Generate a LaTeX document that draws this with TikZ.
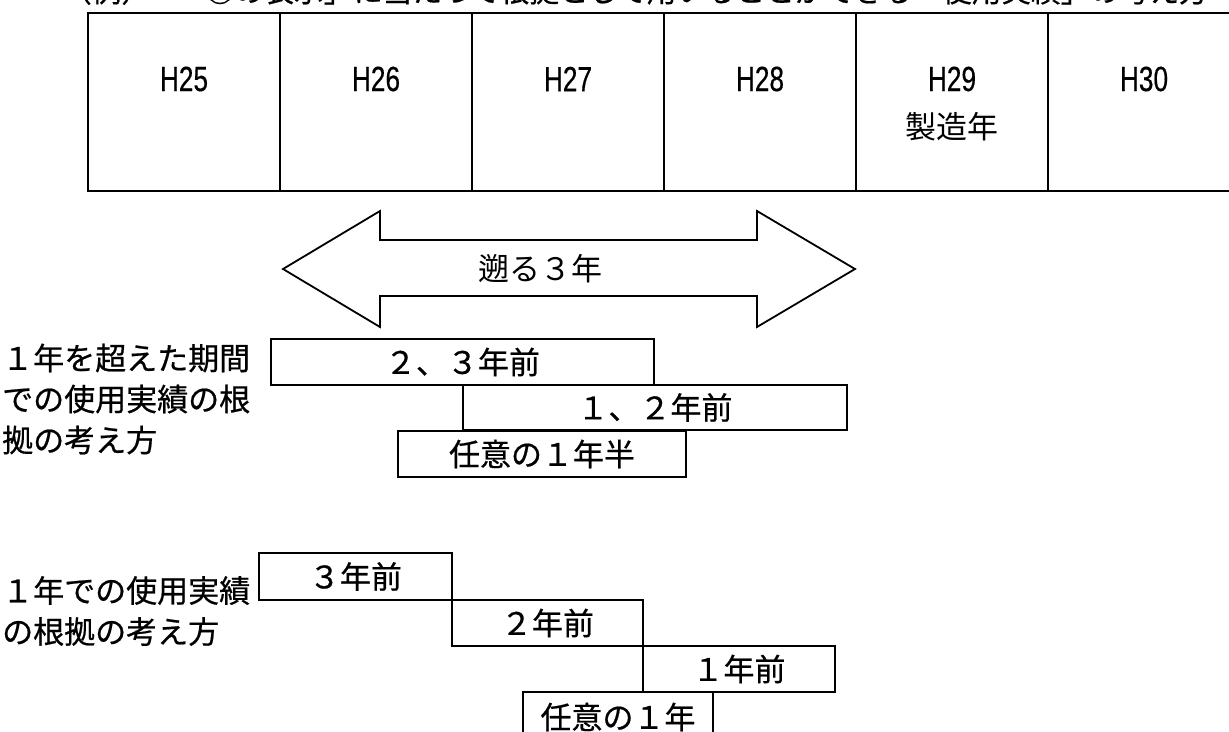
\documentclass[tikz,border=0pt]{standalone}
\usepackage{fontspec}
\setmainfont{Noto Sans CJK JP}
\newfontfamily\boldjp[FakeBold=0.6]{Noto Sans CJK JP}
\newfontfamily\hfont[FakeStretch=0.75,FakeBold=0.4]{Liberation Sans}
\begin{document}
\begin{tikzpicture}[x=1pt,y=-1pt,
  cell/.style={draw,line width=2.2pt,minimum width=192pt,minimum height=178pt,inner sep=0pt},
  yr/.style={font=\hfont\fontsize{35}{40}\selectfont,inner sep=0pt},
  jp/.style={font=\boldjp\fontsize{31}{41}\selectfont,inner sep=0pt},
  thinjp/.style={font=\fontsize{31}{41}\selectfont,inner sep=0pt},
  captext/.style={anchor=base west,inner sep=0pt,font=\boldjp\fontsize{29.6}{32}\selectfont},
  bar/.style={draw,line width=1.8pt,inner sep=0pt,font=\boldjp\fontsize{31}{36}\selectfont},
  outline/.style={draw,line width=1.8pt,line join=miter}]
\useasboundingbox (0,0) rectangle (1229,731);
\clip (0,0) rectangle (1229,731);
% cut-off caption
\node[captext] (cap1) at (62,2) {（例）};
\node[captext] (cap2) at (205,2) {○の表示」に当たって根拠として用いることができる「使用実績」の考え方};
% year table
\node[cell] (c25) at (184,102) {};
\node[cell] (c26) at (376,102) {};
\node[cell] (c27) at (568,102) {};
\node[cell] (c28) at (760,102) {};
\node[cell] (c29) at (952,102) {};
\node[cell] (c30) at (1144,102) {};
\node[yr] (t25) at (184,79) {H25};
\node[yr] (t26) at (376,79) {H26};
\node[yr] (t27) at (568,79) {H27};
\node[yr] (t28) at (760,79) {H28};
\node[yr] (t29) at (952,79) {H29};
\node[thinjp] (m29) at (952,127) {製造年};
\node[yr] (t30) at (1144,79) {H30};
% double arrow
\draw[outline] (283,269) -- (380,211) -- (380,240) -- (757,240) -- (757,211)
  -- (855,269) -- (757,327) -- (757,296) -- (380,296) -- (380,327) -- cycle;
\node[thinjp] (back) at (540,269) {遡る３年};
% group 1
\node[jp,anchor=west,align=left] (lab1) at (2,399) {１年を超えた期間\\での使用実績の根\\拠の考え方};
\node[bar,minimum width=383pt,minimum height=46pt] (b23) at (462.5,362) {２、３年前};
\node[bar,minimum width=384pt,minimum height=45pt] (b12) at (655,407.5) {１、２年前};
\node[bar,minimum width=288pt,minimum height=46pt] (bany15) at (542,454) {任意の１年半};
% group 2
\node[jp,anchor=west,align=left] (lab2) at (2,611) {１年での使用実績\\の根拠の考え方};
\node[bar,minimum width=193pt,minimum height=47pt] (b3) at (355.5,576.5) {３年前};
\node[bar,minimum width=191pt,minimum height=46pt] (b2) at (547.5,623) {２年前};
\node[bar,minimum width=192pt,minimum height=46pt] (b1) at (739,669) {１年前};
\node[bar,minimum width=190pt,minimum height=50pt] (bany1) at (618,717) {任意の１年};
\end{tikzpicture}
\end{document}
